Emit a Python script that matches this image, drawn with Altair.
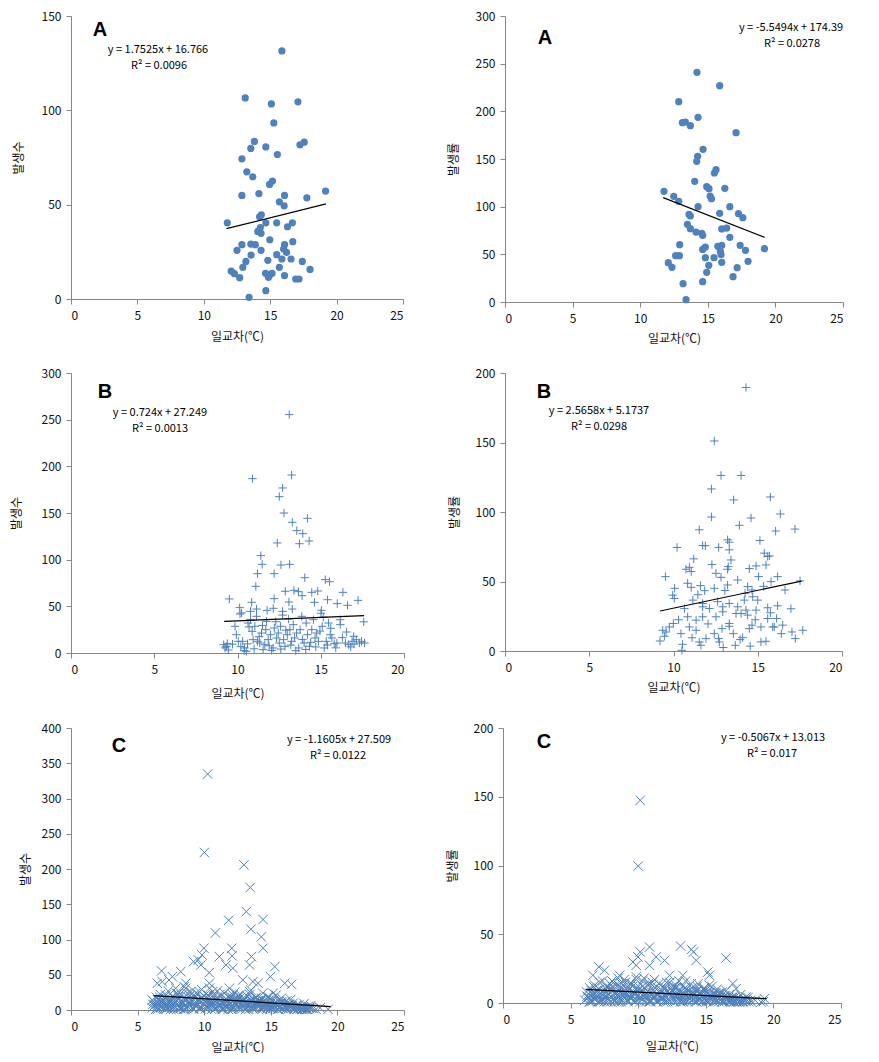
import altair as alt
import pandas as pd

# ---------------- data ----------------
A_cnt_x = [15.88, 13.12, 15.09, 17.09, 15.27, 13.81, 13.54, 14.67, 17.24, 17.56,
           15.54, 12.87, 13.24, 13.69, 14.95, 15.17, 12.87, 14.15, 16.08, 19.17,
           17.76, 15.69, 16.05, 11.77, 14.20, 14.33, 14.67, 15.49, 16.67, 16.30,
           14.06, 14.31, 14.26, 14.97, 16.70, 12.87, 13.54, 13.88, 16.08, 12.50,
           14.31, 16.01, 16.23, 13.56, 15.49, 15.88, 16.57, 14.82, 13.17, 17.42,
           12.94, 15.69, 18.00, 12.06, 12.30, 12.70, 14.65, 14.95, 15.14, 14.87,
           16.08, 16.92, 17.17, 13.41, 14.67]
A_cnt_y = [131.5, 106.6, 103.4, 104.5, 93.3, 83.5, 79.8, 80.6, 81.7, 83.1,
           76.6, 74.3, 67.4, 64.8, 60.7, 62.5, 54.9, 55.9, 54.9, 57.2,
           53.6, 51.5, 49.4, 40.4, 43.6, 44.6, 40.4, 40.4, 40.4, 38.3,
           35.8, 34.8, 37.9, 31.4, 30.4, 28.8, 29.1, 28.8, 28.8, 25.8,
           25.8, 26.5, 24.7, 23.3, 23.5, 21.2, 21.2, 20.5, 19.9, 19.9,
           16.8, 16.8, 15.7, 14.8, 13.4, 11.3, 13.6, 12.7, 13.6, 11.5,
           12.4, 10.6, 10.6, 0.9, 4.4]

A_rate_x = [14.20, 15.88, 12.85, 14.28, 13.12, 13.34, 13.71, 17.09, 14.65, 14.25,
            14.18, 15.61, 15.49, 14.03, 14.92, 15.09, 16.26, 11.76, 15.17, 15.27,
            12.48, 12.85, 14.28, 16.63, 13.61, 13.71, 15.88, 17.27, 17.59, 13.49,
            13.71, 14.13, 14.55, 14.62, 16.03, 16.40, 16.63, 12.92, 14.82, 14.62,
            15.74, 16.03, 15.93, 15.98, 17.39, 17.79, 19.19, 12.62, 12.90, 14.82,
            15.46, 16.03, 12.08, 12.35, 15.07, 14.92, 17.17, 17.98, 16.87, 13.17,
            14.62, 13.39]
A_rate_y = [240.9, 226.9, 210.1, 193.7, 188.1, 188.8, 185.0, 177.6, 160.1, 152.8,
            147.6, 138.8, 135.3, 126.6, 121.0, 118.9, 119.2, 116.1, 111.2, 108.4,
            110.8, 105.6, 100.0, 100.0, 92.0, 90.2, 93.0, 92.7, 88.5, 81.5,
            76.9, 73.4, 72.0, 69.9, 76.6, 77.6, 67.8, 60.1, 57.7, 55.2,
            58.4, 59.4, 53.1, 49.7, 59.4, 54.2, 55.9, 48.6, 48.6, 46.5,
            46.5, 41.6, 41.3, 36.4, 38.5, 31.1, 36.0, 42.7, 26.6, 19.2,
            21.3, 2.4]

B_cnt_x = [13.11, 10.90, 13.25, 12.71, 12.51, 12.79, 13.29, 14.20, 13.56, 13.92,
           12.39, 13.72, 14.30, 11.40, 11.48, 11.20, 12.61, 13.13, 11.10, 12.20,
           14.04, 15.27, 15.53, 12.87, 13.39, 13.66, 9.51, 13.09, 12.20, 13.88,
           14.46, 14.82, 16.33, 15.41, 17.24, 15.99, 16.61, 14.62, 10.13, 10.85,
           10.25, 10.78, 11.14, 11.78, 12.15, 12.71, 13.29, 15.04, 17.58, 17.63,
           9.17, 9.33, 9.39, 9.85, 9.93, 10.05, 10.15, 10.31, 10.42, 10.53,
           10.63, 10.70, 10.78, 10.88, 10.94, 11.04, 11.14, 11.20, 11.34, 11.44,
           11.54, 11.64, 11.70, 11.74, 11.84, 11.98, 12.14, 12.21, 12.35, 12.45,
           12.51, 12.59, 12.71, 12.77, 12.85, 12.99, 13.07, 13.15, 13.25, 13.35,
           13.43, 13.55, 13.68, 13.76, 13.86, 14.00, 14.12, 14.20, 14.32, 14.46,
           14.56, 14.66, 14.76, 14.86, 15.01, 15.09, 15.21, 15.33, 15.47, 15.57,
           15.67, 15.81, 15.97, 16.17, 16.17, 16.48, 16.68, 16.88, 16.98, 17.14,
           17.32, 9.25, 9.45, 9.70, 10.20, 10.40, 10.60, 11.00, 11.30, 11.50,
           11.90, 12.05, 12.30, 12.60, 12.90, 13.20, 13.50, 13.90, 14.10, 14.40,
           14.70, 14.95, 15.15, 15.40, 15.60, 15.90, 16.30, 16.55, 16.80, 17.00,
           17.45]
B_cnt_y = [255.4, 186.8, 190.7, 176.8, 167.5, 150, 140, 144.3, 131.1, 127.9,
           117.9, 117.1, 120, 104.3, 95, 85, 94.3, 95, 71.4, 85,
           80.7, 78.6, 76.4, 66.1, 67.1, 65.7, 57.9, 54.6, 58.2, 61.4,
           65, 66.4, 65, 57.1, 56.4, 52.9, 51.1, 54.3, 48.6, 54.3,
           42.9, 44.6, 47.1, 45.7, 47.9, 44.6, 47.1, 45.7, 33.4, 10.7,
           8.9, 7.1, 10, 28.6, 19.6, 12.5, 41.8, 12.5, 5.4, 1.8,
           32.1, 27.9, 35.7, 23.2, 14.3, 28.6, 39.3, 12.5, 10.7, 21.4,
           3.6, 8.9, 25, 33.9, 14.3, 19.6, 5.4, 26.8, 16.1, 21.4,
           10.7, 28.6, 40.6, 14.3, 7.1, 19.6, 36.4, 25, 12.5, 30.4,
           16.1, 21.4, 5.4, 25, 39.3, 10.7, 32.1, 19.6, 7.1, 25,
           35.7, 16.1, 21.4, 12.5, 42.6, 28.6, 5.4, 12.5, 32.1, 19.6,
           16.1, 10, 10.7, 35.7, 30.4, 10.7, 8.9, 12.5, 17.9, 14.3,
           10.7, 5.5, 3.2, 9.5, 6.8, 2.5, 9.8, 4.5, 17.5, 29.5,
           7.8, 2.8, 33.5, 4.2, 24.5, 8.5, 2.5, 14.5, 3.8, 11.5,
           6.5, 23.5, 38.5, 8.5, 26.5, 5.5, 16.5, 22.5, 6.5, 9.5,
           12.5]

B_rate_x = [14.30, 12.42, 12.82, 14.01, 12.25, 13.57, 15.75, 12.25, 14.60, 16.34,
            16.06, 17.21, 11.53, 13.91, 10.21, 11.73, 11.89, 12.68, 13.21, 13.31,
            15.13, 11.20, 13.31, 13.41, 15.39, 15.59, 15.69, 9.52, 10.74, 10.94,
            11.05, 12.28, 12.52, 12.82, 13.21, 13.25, 14.50, 14.90, 15.05, 15.49,
            16.18, 10.07, 10.84, 11.05, 11.60, 11.85, 12.42, 13.21, 13.81, 14.40,
            14.66, 15.79, 16.62, 17.51, 9.95, 10.05, 11.15, 11.73, 11.73, 12.13,
            12.92, 13.31, 13.81, 14.20, 14.70, 15.00, 15.59, 16.18, 16.97, 10.84,
            11.34, 11.73, 12.52, 12.92, 13.31, 13.71, 14.40, 14.90, 15.19, 15.59,
            16.12, 16.48, 15.89, 9.99, 9.75, 9.56, 9.36, 9.20, 9.46, 10.44,
            10.54, 10.50, 10.94, 11.34, 11.53, 11.63, 11.93, 12.42, 12.68, 12.72,
            12.88, 13.31, 13.67, 13.95, 14.10, 14.50, 14.66, 15.19, 15.49, 15.98,
            17.03, 17.23, 17.67, 14.01, 14.30, 10.30, 10.65, 11.45, 12.05, 12.62,
            13.05, 13.55, 14.25, 14.85, 15.35, 16.40, 11.10, 12.95, 14.55, 15.75]
B_rate_y = [189.6, 151.1, 126.3, 126.3, 116.6, 108.7, 110.8, 96.4, 95.7, 98.6,
            86.3, 87.7, 87.2, 90.4, 74.5, 75.9, 75.7, 74.5, 80, 78.3,
            79.5, 66.3, 72.8, 65.5, 70.4, 68, 68.4, 53.5, 58.8, 60.2,
            57.1, 62.2, 55.9, 53, 58.8, 60.7, 59.3, 61.2, 53.5, 61.9,
            53.5, 45.1, 48.7, 45.8, 47, 43.4, 45.1, 47.5, 51.1, 46.3,
            43.9, 49.9, 43.9, 50.4, 40.2, 37.8, 36.6, 34.2, 31.8, 30.6,
            31.8, 34.2, 31.8, 36.6, 39, 36.6, 31.1, 32.5, 30.4, 24.6,
            22.2, 24.6, 24.6, 28.2, 19.8, 27, 25.8, 29.4, 17.3, 23.4,
            23.4, 18.6, 17.3, 19.8, 17.3, 13.7, 14.9, 7.2, 10.6, 12.5,
            4.8, 0.5, 17.3, 14.9, 6.5, 4.1, 8.9, 12.5, 8.9, 6.5,
            16.1, 17.8, 4.1, 8.2, 9.6, 16.1, 18.6, 6.5, 7, 17.3,
            13.7, 8.9, 14.9, 27, 29.4, 22.5, 30.5, 40.5, 19.5, 35.5,
            43.5, 12.5, 41.5, 22.5, 46.5, 12.5, 9.5, 2.5, 3.5, 27.5]

C_cnt_x = [10.26, 10.01, 12.98, 13.46, 13.16, 11.84, 14.42, 10.84, 13.51, 14.29,
           14.42, 9.98, 9.83, 9.55, 9.20, 12.07, 12.10, 11.14, 11.64, 12.15,
           13.55, 13.41, 15.30, 6.80, 8.24, 10.38, 9.75, 14.97, 12.90, 13.66,
           14.04, 16.05, 16.56, 7.61, 6.48, 6.85, 7.36, 8.62, 10.38, 8.62,
           7.86, 9.63, 10.63, 11.89, 13.41, 15.17, 12.15, 6.10,
           6.1, 6.2, 6.3, 6.4, 6.5, 6.6, 6.7, 6.8, 6.9, 7.0,
           7.1, 7.2, 7.3, 7.4, 7.5, 7.6, 7.7, 7.8, 7.9, 8.0,
           8.1, 8.2, 8.3, 8.4, 8.5, 8.6, 8.7, 8.8, 8.9, 9.0,
           9.1, 9.2, 9.3, 9.4, 9.5, 9.6, 9.7, 9.8, 9.9, 10.0,
           10.1, 10.2, 10.3, 10.4, 10.5, 10.6, 10.7, 10.8, 10.9, 11.0,
           11.1, 11.2, 11.3, 11.4, 11.5, 11.6, 11.7, 11.8, 11.9, 12.0,
           12.1, 12.2, 12.3, 12.4, 12.5, 12.6, 12.7, 12.8, 12.9, 13.0,
           13.1, 13.2, 13.3, 13.4, 13.5, 13.6, 13.7, 13.8, 13.9, 14.0,
           14.1, 14.2, 14.3, 14.4, 14.5, 14.6, 14.7, 14.8, 14.9, 15.0,
           15.1, 15.2, 15.3, 15.4, 15.5, 15.6, 15.7, 15.8, 15.9, 16.0,
           16.1, 16.2, 16.3, 16.4, 16.5, 16.6, 16.7, 16.8, 16.9, 17.0,
           17.1, 17.2, 17.3, 17.4, 17.5, 17.6, 17.7, 17.8, 17.9, 18.0,
           6.15, 6.35, 6.55, 6.75, 6.95, 7.15, 7.35, 7.55, 7.75, 7.95,
           8.15, 8.35, 8.55, 8.75, 8.95, 9.15, 9.35, 9.55, 9.75, 9.95,
           10.15, 10.35, 10.55, 10.75, 10.95, 11.15, 11.35, 11.55, 11.75, 11.95,
           12.15, 12.35, 12.55, 12.75, 12.95, 13.15, 13.35, 13.55, 13.75, 13.95,
           14.15, 14.35, 14.55, 14.75, 14.95, 15.15, 15.35, 15.55, 15.75, 15.95,
           16.15, 16.35, 16.55, 16.75, 16.95, 17.15, 17.55, 17.95, 18.2, 18.4,
           6.45, 6.85, 7.25, 7.65, 8.05, 8.45, 8.85, 9.25, 9.65, 10.05,
           10.45, 10.85, 11.25, 11.65, 12.05, 12.45, 12.85, 13.25, 13.65, 14.05,
           14.45, 14.85, 15.25, 15.65, 16.05, 16.45, 16.85, 17.25, 18.7, 19.3,
           6.25, 6.42, 6.58, 6.73, 6.88, 7.04, 7.19, 7.33, 7.48, 7.62,
           7.77, 7.91, 8.06, 8.21, 8.36, 8.49, 8.64, 8.79, 8.93, 9.08,
           9.22, 9.37, 9.52, 9.66, 9.81, 9.96, 10.11, 10.26, 10.41, 10.55,
           10.69, 10.84, 10.99, 11.13, 11.28, 11.43, 11.58, 11.72, 11.87, 12.02,
           12.17, 12.31, 12.46, 12.61, 12.76, 12.91, 13.05, 13.2, 13.35, 13.49,
           13.64, 13.79, 13.94, 14.08, 14.23, 14.38, 14.53, 14.67, 14.82, 14.97,
           15.12, 15.26, 15.41, 15.56, 15.71, 15.86, 16.0, 16.15, 16.29, 16.44,
           16.58, 16.73, 16.88, 17.02, 17.17, 17.32, 17.46, 17.61, 17.76, 18.05,
           6.66, 7.12, 7.57, 8.02, 8.47, 8.91, 9.36, 9.82, 10.27, 10.72,
           11.18, 11.63, 12.08, 12.53, 12.98, 13.43, 13.88, 14.33, 14.78, 15.23]
C_cnt_y = [334.7, 223.4, 205.9, 173.7, 139.6, 127.3, 128.3, 109.3, 114.6, 103.7,
           87.6, 87.6, 78.1, 71, 68.6, 87.6, 76.7, 75.7, 63.9, 59.2,
           75.7, 63.9, 61.5, 55.4, 54.4, 53, 63.9, 47.3, 42.6, 40.2,
           37.9, 37.9, 36.4, 47.3, 37.9, 40.2, 42.6, 37.9, 37.9, 30.8,
           30.8, 26, 26, 30.8, 26, 23.7, 21.3, 14.2,
           3, 12, 7, 18, 1, 9, 22, 5, 14, 2,
           16, 8, 27, 4, 12, 19, 1, 10, 24, 6,
           15, 3, 21, 9, 33, 13, 2, 18, 7, 26,
           11, 1, 17, 6, 23, 14, 4, 29, 9, 20,
           2, 16, 8, 31, 12, 5, 22, 1, 14, 27,
           7, 19, 3, 11, 24, 6, 15, 1, 20, 9,
           13, 4, 25, 8, 17, 2, 22, 10, 5, 16,
           1, 20, 7, 12, 28, 3, 15, 9, 18, 5,
           11, 2, 16, 24, 6, 13, 1, 19, 8, 4,
           14, 3, 9, 21, 1, 12, 6, 17, 2, 10,
           5, 13, 1, 8, 15, 3, 10, 2, 6, 1,
           7, 2, 4, 1, 9, 3, 1, 5, 2, 6,
           8, 1, 14, 4, 10, 2, 13, 6, 17, 1,
           5, 12, 1, 24, 10, 3, 12, 8, 2, 15,
           6, 20, 1, 10, 4, 13, 1, 9, 4, 17,
           1, 11, 6, 18, 3, 9, 1, 14, 4, 11,
           7, 1, 10, 4, 15, 2, 8, 1, 11, 5,
           2, 9, 4, 1, 7, 3, 1, 4, 2, 1,
           5, 11, 3, 8, 19, 1, 11, 19, 13, 7,
           9, 3, 6, 12, 1, 14, 8, 5, 2, 13,
           3, 9, 6, 4, 11, 6, 4, 2, 3, 1,
           6, 2, 10, 4, 13, 7, 3, 9, 1, 11,
           5, 14, 8, 2, 11, 6, 15, 4, 12, 3,
           9, 5, 13, 2, 16, 8, 11, 4, 14, 7,
           10, 3, 17, 6, 9, 2, 12, 5, 8, 14,
           3, 9, 12, 5, 14, 7, 10, 2, 8, 13,
           6, 11, 3, 8, 12, 4, 9, 6, 13, 2,
           7, 10, 4, 8, 3, 11, 6, 2, 7, 4,
           6, 3, 5, 2, 4, 1, 3, 2, 1, 3,
           18, 21, 15, 23, 17, 20, 24, 18, 21, 19,
           22, 16, 18, 20, 14, 22, 17, 15, 18, 14]

C_rate_x = [10.15, 10.00, 13.13, 10.84, 13.94, 14.09, 14.29, 16.50, 9.98, 9.61,
            10.15, 11.33, 11.95, 9.85, 10.84, 7.09, 7.51, 6.65, 15.15, 15.27,
            8.62, 12.32, 13.30, 17.00, 17.24, 17.98, 19.33, 19.09,
            6.05, 6.18, 6.32, 6.41, 6.57, 6.63, 6.78, 6.84, 6.96, 7.07,
            7.13, 7.22, 7.36, 7.42, 7.55, 7.64, 7.71, 7.83, 7.92, 8.04,
            8.11, 8.26, 8.33, 8.47, 8.52, 8.65, 8.74, 8.81, 8.93, 9.06,
            9.12, 9.24, 9.31, 9.45, 9.53, 9.67, 9.72, 9.86, 9.94, 10.03,
            10.14, 10.22, 10.37, 10.43, 10.56, 10.61, 10.75, 10.82, 10.97, 11.04,
            11.16, 11.23, 11.35, 11.48, 11.52, 11.66, 11.74, 11.87, 11.91, 12.06,
            12.12, 12.27, 12.34, 12.43, 12.58, 12.62, 12.77, 12.85, 12.96, 13.02,
            13.14, 13.25, 13.32, 13.46, 13.51, 13.68, 13.73, 13.84, 13.97, 14.05,
            14.13, 14.21, 14.38, 14.42, 14.56, 14.64, 14.71, 14.88, 14.93, 15.06,
            15.11, 15.27, 15.34, 15.45, 15.58, 15.62, 15.76, 15.83, 15.95, 16.04,
            16.16, 16.23, 16.37, 16.44, 16.51, 16.68, 16.73, 16.86, 16.92, 17.05,
            17.13, 17.28, 17.36, 17.42, 17.57, 17.64, 17.76, 17.85, 17.98, 18.12,
            6.22, 6.38, 6.53, 6.72, 6.91, 7.18, 7.33, 7.58, 7.77, 7.98,
            8.17, 8.38, 8.57, 8.78, 8.97, 9.18, 9.37, 9.58, 9.77, 9.98,
            10.18, 10.33, 10.58, 10.77, 10.93, 11.18, 11.37, 11.57, 11.78, 11.97,
            12.18, 12.37, 12.53, 12.74, 12.98, 13.17, 13.38, 13.57, 13.78, 13.93,
            14.17, 14.33, 14.58, 14.77, 14.97, 15.17, 15.38, 15.57, 15.74, 15.97,
            16.18, 16.33, 16.57, 16.78, 16.97, 17.18, 17.53, 17.93, 18.17, 18.36,
            6.47, 6.83, 7.27, 7.62, 8.07, 8.43, 8.87, 9.23, 9.63, 10.08,
            10.47, 10.87, 11.23, 11.67, 12.03, 12.47, 12.83, 13.27, 13.63, 14.07,
            14.47, 14.83, 15.23, 15.67, 16.03, 16.47, 16.83, 17.27, 18.66, 19.26,
            6.27, 6.44, 6.60, 6.75, 6.90, 7.05, 7.20, 7.35, 7.50, 7.65,
            7.80, 7.95, 8.10, 8.24, 8.39, 8.54, 8.69, 8.84, 8.99, 9.14,
            9.28, 9.43, 9.58, 9.73, 9.88, 10.02, 10.17, 10.32, 10.47, 10.62,
            10.76, 10.91, 11.06, 11.21, 11.36, 11.51, 11.65, 11.80, 11.95, 12.10,
            12.25, 12.39, 12.54, 12.69, 12.84, 12.99, 13.13, 13.28, 13.43, 13.58,
            13.72, 13.87, 14.02, 14.17, 14.32, 14.46, 14.61, 14.76, 14.91, 15.06,
            15.20, 15.35, 15.50, 15.65, 15.80, 15.94, 16.09, 16.24, 16.39, 16.54,
            16.68, 16.83, 16.98, 17.13, 17.28, 17.42, 17.57, 17.72, 17.87, 18.30,
            6.70, 7.16, 7.61, 8.06, 8.51, 8.96, 9.41, 9.86, 10.31, 10.76,
            11.21, 11.66, 12.11, 12.56, 13.01, 13.46, 13.91, 14.36, 14.81, 15.26]
C_rate_y = [147.4, 99.6, 41.5, 40.7, 39, 37.1, 31, 32.7, 33.5, 29.8,
            37.1, 33.5, 31, 27.4, 27.4, 26.2, 23.8, 20.1, 22.5, 20.1,
            20.1, 20.1, 20.1, 14.1, 10.4, 4.4, 3.2, 0.7,
            2, 8, 4, 11, 1, 6, 13, 3, 9, 1,
            10, 5, 16, 2, 7, 12, 1, 6, 14, 4,
            9, 2, 13, 5, 18, 8, 1, 11, 4, 15,
            6, 1, 10, 3, 14, 8, 2, 17, 5, 12,
            1, 9, 5, 18, 7, 3, 13, 1, 8, 15,
            4, 11, 2, 6, 14, 3, 9, 1, 12, 5,
            8, 2, 15, 5, 10, 1, 13, 6, 3, 9,
            1, 12, 4, 7, 16, 2, 9, 5, 11, 3,
            6, 1, 9, 14, 3, 8, 1, 11, 5, 2,
            8, 2, 5, 12, 1, 7, 3, 10, 1, 6,
            3, 8, 1, 5, 9, 2, 6, 1, 4, 1,
            4, 1, 3, 1, 6, 2, 1, 3, 1, 4,
            5, 1, 9, 3, 6, 1, 8, 4, 11, 1,
            3, 7, 1, 14, 6, 2, 7, 5, 1, 9,
            4, 12, 1, 6, 2, 8, 1, 5, 3, 10,
            1, 7, 3, 11, 2, 5, 1, 8, 3, 6,
            4, 1, 6, 2, 9, 1, 5, 1, 7, 3,
            1, 5, 2, 1, 4, 2, 1, 2, 1, 1,
            3, 7, 2, 5, 12, 1, 7, 12, 8, 4,
            6, 2, 4, 8, 1, 9, 5, 3, 1, 8,
            2, 6, 4, 3, 7, 4, 2, 1, 2, 1,
            4, 1, 7, 3, 9, 5, 2, 6, 1, 8,
            3, 10, 6, 1, 8, 4, 11, 2, 7, 3,
            9, 4, 12, 6, 2, 10, 7, 3, 11, 5,
            8, 1, 13, 5, 7, 2, 10, 4, 6, 9,
            2, 7, 9, 3, 11, 5, 8, 1, 6, 10,
            4, 8, 2, 6, 9, 3, 7, 5, 10, 1,
            5, 8, 3, 6, 2, 7, 4, 1, 5, 3,
            4, 2, 3, 1, 3, 1, 2, 1, 2, 2,
            12, 15, 10, 16, 13, 17, 14, 19, 16, 14,
            17, 13, 15, 12, 16, 11, 14, 12, 10, 13]

# trend lines: slope, intercept, x start, x end (as printed / drawn)
A_cnt_fit = [1.7525, 16.766, 11.7, 19.2]
A_rate_fit = [-5.5494, 174.39, 11.7, 19.2]
B_cnt_fit = [0.724, 27.249, 9.2, 17.6]
B_rate_fit = [2.5658, 5.1737, 9.2, 17.6]
C_cnt_fit = [-1.1605, 27.509, 6.2, 19.5]
C_rate_fit = [-0.5067, 13.013, 6.1, 19.5]

X_TITLE = "일교차(℃)"

# ---------------- styling ----------------
BLUE = "#4F81BD"
GRAY = "#868686"
FONT = "Noto Sans CJK KR"
PLUS = "M-1,0L1,0M0,-1L0,1"
XMARK = "M-1,-1L1,1M-1,1L1,-1"


def text_layer(txt, pos, size, bold=False, font=FONT):
    return alt.Chart(pd.DataFrame({"t": [txt]})).mark_text(
        font=font, fontSize=size, fontWeight="bold" if bold else "normal",
        color="black", align="center", baseline="middle"
    ).encode(x=alt.value(pos[0]), y=alt.value(pos[1]), text="t:N")


def panel(xs, ys, marker, xmax, ymax, ystep, w, h, fit, ytitle, ytitle_pad, xtitle_y,
          letter, letter_pos, eq, eq_pos, r2, r2_pos):
    df = pd.DataFrame({"x": xs, "y": ys})
    xs_ = alt.Scale(domain=[0, xmax], nice=False)
    ys_ = alt.Scale(domain=[0, ymax], nice=False)
    xaxis = alt.Axis(values=list(range(0, xmax + 1, 5)), title=X_TITLE,
                     titleY=xtitle_y, titleBaseline="middle")
    yaxis = alt.Axis(values=list(range(0, ymax + 1, ystep)), title=ytitle,
                     titlePadding=ytitle_pad)
    if marker == "circle":
        m = alt.Chart(df).mark_circle(size=52, color=BLUE, opacity=1)
    elif marker == "plus":
        m = alt.Chart(df).mark_point(shape=PLUS, filled=False, size=70, color=BLUE,
                                     strokeWidth=1, opacity=1)
    else:
        m = alt.Chart(df).mark_point(shape=XMARK, filled=False, size=90, color=BLUE,
                                     strokeWidth=1, opacity=1)
    pts = m.encode(x=alt.X("x:Q", scale=xs_, axis=xaxis),
                   y=alt.Y("y:Q", scale=ys_, axis=yaxis))
    a, b, x0, x1 = fit
    ldf = pd.DataFrame({"x": [x0, x1], "y": [a * x0 + b, a * x1 + b]})
    line = alt.Chart(ldf).mark_line(color="black", strokeWidth=1.2).encode(
        x=alt.X("x:Q", scale=xs_, axis=xaxis), y=alt.Y("y:Q", scale=ys_, axis=yaxis))
    return alt.layer(
        pts, line,
        text_layer(letter, letter_pos, 20, bold=True, font="Liberation Sans"),
        text_layer(eq, eq_pos, 11),
        text_layer(r2, r2_pos, 11),
    ).properties(width=w, height=h)


pA1 = panel(A_cnt_x, A_cnt_y, "circle", 25, 150, 50, 332, 283, A_cnt_fit,
            "발생수", 16, 37, "A", (29, 14),
            "y = 1.7525x + 16.766", (87, 34), "R² = 0.0096", (88, 50))
pA2 = panel(A_rate_x, A_rate_y, "circle", 25, 300, 50, 338, 286, A_rate_fit,
            "발생률", 15, 36, "A", (40, 22),
            "y = -5.5494x + 174.39", (286, 12), "R² = 0.0278", (287, 28))
pB1 = panel(B_cnt_x, B_cnt_y, "plus", 20, 300, 50, 333, 280, B_cnt_fit,
            "발생수", 18, 40, "B", (34, 19),
            "y = 0.724x + 27.249", (89, 40), "R² = 0.0013", (89, 56))
pB2 = panel(B_rate_x, B_rate_y, "plus", 20, 200, 50, 337, 278, B_rate_fit,
            "발생률", 14, 36, "B", (39, 19),
            "y = 2.5658x + 5.1737", (94, 38), "R² = 0.0298", (94, 54))
pC1 = panel(C_cnt_x, C_cnt_y, "x", 25, 400, 50, 333, 282, C_cnt_fit,
            "발생수", 9, 37, "C", (48, 18),
            "y = -1.1605x + 27.509", (268, 12), "R² = 0.0122", (267, 28))
pC2 = panel(C_rate_x, C_rate_y, "x", 25, 200, 50, 338, 275, C_rate_fit,
            "발생률", 14, 43, "C", (41, 14),
            "y = -0.5067x + 13.013", (270, 10), "R² = 0.017", (269, 26))

row1 = alt.hconcat(pA1, pA2, spacing=43)
row2 = alt.hconcat(pB1, pB2, spacing=43)
row3 = alt.hconcat(pC1, pC2, spacing=41)

chart = alt.vconcat(row1, row2, row3, spacing=23).properties(
    padding={"left": 2, "top": 2, "right": 0, "bottom": 0}
).configure_view(strokeWidth=0).configure_axis(
    grid=False, domainColor=GRAY, tickColor=GRAY, tickSize=5,
    labelFont=FONT, labelFontSize=12, labelColor="#111",
    titleFont=FONT, titleFontSize=12, titleFontWeight="normal", titleColor="#111",
).configure_axisX(labelPadding=6).configure_axisY(labelPadding=5)

chart.save("out.html", embed_options={"renderer": "svg", "actions": False})
